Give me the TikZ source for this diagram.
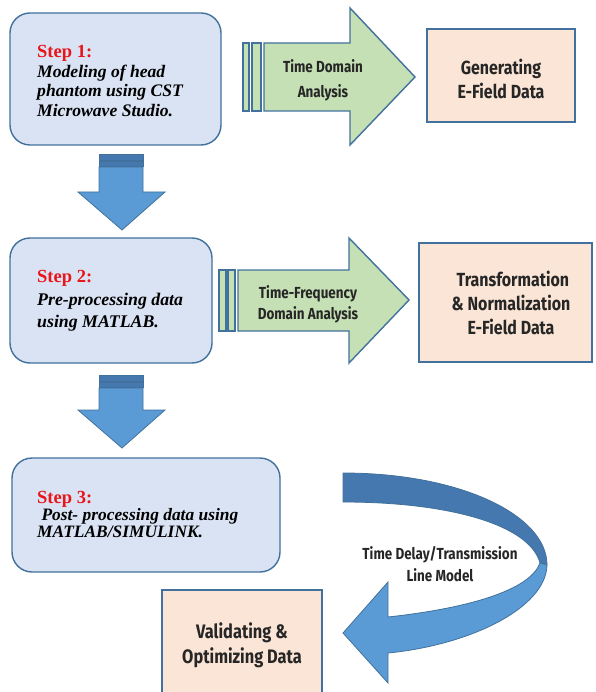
\documentclass[tikz,border=0pt]{standalone}
\usepackage{fontspec}
\setmainfont{Liberation Serif}
\newfontfamily\lblfont[FakeStretch=0.84]{Fira Sans}
\begin{document}
\begin{tikzpicture}[x=1pt,y=-1pt,
  edge/.style={draw=edgeblue,line width=1.4pt},
  stepbox/.style={edge,fill=stepfill,rounded corners=20pt},
  databox/.style={draw=edgeblue,line width=2pt,fill=peach},
  greenarrow/.style={edge,fill=arrowgreen,line join=miter},
  bluearrow/.style={draw=edgeblue,line width=0.8pt,fill=arrowblue},
  steptext/.style 2 args={anchor=west,align=left,inner sep=0pt,font=\fontsize{#1}{#2}\selectfont\bfseries\itshape},
  boxtext/.style={align=center,inner sep=0pt,font=\lblfont\bfseries\fontsize{19}{24}\selectfont,text=black!85},
  arrowtext/.style={align=center,inner sep=0pt,font=\lblfont\bfseries\fontsize{16}{#1}\selectfont,text=black!85},
]
\definecolor{edgeblue}{HTML}{41719C}
\definecolor{stepfill}{HTML}{DAE3F3}
\definecolor{peach}{HTML}{FBE5D6}
\definecolor{arrowgreen}{HTML}{C5E0B4}
\definecolor{arrowblue}{HTML}{5B9BD5}
\definecolor{arrowdark}{HTML}{4678B0}
\definecolor{stepred}{HTML}{E8151B}
\newcommand{\steplbl}[1]{\textcolor{stepred}{\upshape\fontsize{18.5}{18}\selectfont #1}}

\useasboundingbox (0,0) rectangle (595,692);
\clip (0,0) rectangle (595,692);

% ---- step boxes
\draw[stepbox] (10,13) rectangle (221,145);
\node[steptext={17.6}{19.5}] (step1) at (37,81)
  {\steplbl{Step 1:}\\Modeling of head\\phantom using CST\\Microwave Studio.};

\draw[stepbox] (10,238) rectangle (212,363);
\node[steptext={17.8}{22.5}] (step2) at (37,301)
  {\steplbl{Step 2:}\\Pre-processing data\\using MATLAB.};

\draw[stepbox] (12,458) rectangle (280,572);
\node[steptext={17.4}{17}] (step3) at (37,514)
  {\steplbl{Step 3:}\\\ Post- processing data using\\MATLAB/SIMULINK.};

% ---- result boxes
\draw[databox] (427,29) rectangle (575,122);
\node[boxtext] (efield) at (501,79) {Generating\\E-Field Data};

\draw[databox] (419,243) rectangle (592,362);
\node[boxtext] (transform) at (511,303) {\ Transformation\\\& Normalization\\E-Field Data};

\draw[databox] (162,590) rectangle (322,710);
\node[boxtext,font=\lblfont\bfseries\fontsize{19.5}{25}\selectfont] (validate) at (242,645) {Validating \&\\Optimizing Data};

% ---- green block arrows with their stripes
\draw[greenarrow] (243,43) rectangle (249,111);
\draw[greenarrow] (252,43) rectangle (261,111);
\draw[greenarrow] (264,43) -- (350,43) -- (350,8) -- (415,77) -- (350,145) -- (350,111) -- (264,111) -- cycle;
\node[arrowtext=25] (tda) at (323,80) {Time Domain\\Analysis};

\draw[greenarrow] (219,270) rectangle (226,331);
\draw[greenarrow] (228,270) rectangle (235,331);
\draw[greenarrow] (238,270) -- (349,270) -- (349,238) -- (409,300) -- (349,363) -- (349,331) -- (238,331) -- cycle;
\node[arrowtext=21] (tfda) at (308,304) {Time-Frequency\\Domain Analysis};

% ---- downward block arrows
\draw[bluearrow] (99,167) -- (143,167) -- (143,192) -- (165,192) -- (122,230) -- (78,192) -- (99,192) -- cycle;
\draw[bluearrow,fill=arrowdark] (99,154) rectangle (143,160);
\draw[bluearrow,fill=arrowdark] (99,161) rectangle (143,166);

\draw[bluearrow] (99,388) -- (143,388) -- (143,410) -- (165,410) -- (122,448) -- (78,410) -- (99,410) -- cycle;
\draw[bluearrow,fill=arrowdark] (99,375) rectangle (143,381);
\draw[bluearrow,fill=arrowdark] (99,382) rectangle (143,387);

% ---- curved return arrow
\draw[bluearrow,fill=arrowdark]
  (343,473) .. controls (460,473) and (547,515) .. (547,565)
  -- (540,563) .. controls (530,525) and (450,502) .. (343,502) -- cycle;
\draw[bluearrow]
  (540,563) -- (547,565) .. controls (546,608) and (470,645) .. (388,653)
  -- (388,683) -- (343,633) -- (388,582) -- (388,617)
  .. controls (470,608) and (530,590) .. (540,563) -- cycle;
\node[arrowtext=22] (tdl) at (440,564) {Time Delay/Transmission\\Line Model};
\end{tikzpicture}
\end{document}
